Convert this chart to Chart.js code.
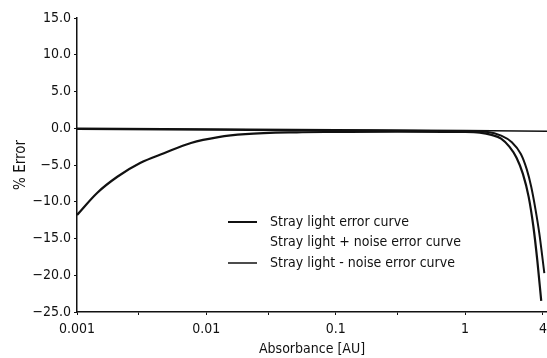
<!DOCTYPE html>
<html lang="en">
<head>
    <meta charset="UTF-8">
    <title>Stray light error</title>
    <style>
        body {
            margin: 0;
            padding: 0;
            background-color: #ffffff;
        }
        #wrap {
            width: 547px;
            height: 358px;
        }
    </style>
</head>
<body>
    <div id="wrap"><canvas id="errorChart" width="547" height="358"></canvas></div>

    <script src="https://cdn.jsdelivr.net/npm/chart.js"></script>
    <script>
        // Data
        var seriesLabels = ['Stray light error curve', 'Stray light + noise error curve', 'Stray light - noise error curve'];

        // stray light error curve (leaves the zero line near 1.5 AU)
        var strayX = [0.001, 0.1, 1, 1.5, 1.9, 2.3, 2.7, 3.0, 3.25, 3.5, 3.75, 4.1];
        var strayY = [-0.1, -0.3, -0.4, -0.5, -1.0, -1.9, -3.5, -5.6, -8.0, -11.0, -14.3, -19.7];

        // stray light + noise
        var plusX = [0.001, 0.00143, 0.00205, 0.0031, 0.0047, 0.0076, 0.0124, 0.02, 0.05, 0.1, 0.3, 1, 1.3, 1.6, 1.9, 2.2, 2.5, 2.8, 3.1, 3.37, 3.62, 3.88];
        var plusY = [-11.8, -8.8, -6.6, -4.7, -3.4, -2.0, -1.2, -0.8, -0.55, -0.5, -0.45, -0.5, -0.6, -0.9, -1.4, -2.5, -4.0, -6.2, -9.3, -13.3, -18.0, -23.5];

        // stray light - noise (stays at the zero line)
        var minusX = [0.001, 0.1, 1, 4.3];
        var minusY = [0.0, -0.2, -0.3, -0.4];

        var xTicks = [0.001, 0.003, 0.01, 0.03, 0.1, 0.3, 1, 4];
        var xTickLabels = ['0.001', '', '0.01', '', '0.1', '', '1', '4'];

        function pairs(xs, ys) {
            return xs.map(function(x, i) { return { x: x, y: ys[i] }; });
        }

        var fontFamily = "'Liberation Sans Narrow', 'DejaVu Sans Condensed', 'Arial Narrow', sans-serif";

        // legend drawn inside the plot, second entry has no line sample
        var innerLegend = {
            id: 'innerLegend',
            afterDraw: function(chart) {
                var ctx = chart.ctx;
                var area = chart.chartArea;
                var x0 = area.left + 151;
                var y0 = area.top + 204;
                ctx.save();
                ctx.font = '14px ' + fontFamily;
                ctx.fillStyle = '#111';
                ctx.textBaseline = 'middle';
                chart.data.datasets.forEach(function(ds, i) {
                    var y = y0 + i * 20.5;
                    if (i !== 1) {
                        ctx.strokeStyle = '#111';
                        ctx.lineWidth = i === 0 ? 2 : 1.5;
                        ctx.beginPath();
                        ctx.moveTo(x0, y);
                        ctx.lineTo(x0 + 29, y);
                        ctx.stroke();
                    }
                    ctx.fillText(ds.label, x0 + 42, y);
                });
                ctx.restore();
            }
        };

        var ctx = document.getElementById('errorChart').getContext('2d');
        new Chart(ctx, {
            type: 'line',
            data: {
                datasets: [{
                    label: seriesLabels[0],
                    data: pairs(strayX, strayY),
                    borderColor: '#111',
                    borderWidth: 2,
                    pointRadius: 0,
                    cubicInterpolationMode: 'monotone'
                }, {
                    label: seriesLabels[1],
                    data: pairs(plusX, plusY),
                    borderColor: '#111',
                    borderWidth: 2.2,
                    pointRadius: 0,
                    cubicInterpolationMode: 'monotone'
                }, {
                    label: seriesLabels[2],
                    data: pairs(minusX, minusY),
                    borderColor: '#111',
                    borderWidth: 1.5,
                    pointRadius: 0,
                    tension: 0
                }]
            },
            options: {
                responsive: false,
                animation: false,
                layout: {
                    padding: { top: 18, right: 0, left: 0, bottom: -4 }
                },
                plugins: {
                    legend: { display: false },
                    tooltip: { enabled: false }
                },
                scales: {
                    x: {
                        type: 'logarithmic',
                        min: 0.001,
                        max: 4.3,
                        afterBuildTicks: function(scale) {
                            scale.ticks = xTicks.map(function(v) { return { value: v }; });
                        },
                        afterFit: function(scale) {
                            scale.height = 50;
                            scale.paddingRight = 0;
                        },
                        ticks: {
                            autoSkip: false,
                            maxRotation: 0,
                            padding: 6,
                            color: '#111',
                            font: { family: fontFamily, size: 14 },
                            callback: function(value, index) {
                                return xTickLabels[index];
                            }
                        },
                        grid: {
                            drawOnChartArea: false,
                            color: '#111',
                            tickLength: 3
                        },
                        border: { color: '#111', width: 1.5 },
                        title: {
                            display: true,
                            text: 'Absorbance [AU]',
                            color: '#111',
                            font: { family: fontFamily, size: 14 },
                            padding: { top: 5 }
                        }
                    },
                    y: {
                        min: -25,
                        max: 15,
                        afterFit: function(scale) {
                            scale.width = 77;
                        },
                        ticks: {
                            stepSize: 5,
                            padding: 3,
                            color: '#111',
                            font: { family: fontFamily, size: 14 },
                            callback: function(value) {
                                var s = Math.abs(value).toFixed(1);
                                return value < 0 ? '\u2212' + s : s;
                            }
                        },
                        grid: {
                            drawOnChartArea: false,
                            color: '#111',
                            tickLength: 3
                        },
                        border: { color: '#111', width: 1.5 },
                        title: {
                            display: true,
                            text: '% Error',
                            color: '#111',
                            font: { family: fontFamily, size: 15 },
                            padding: { top: 12, bottom: 0 }
                        }
                    }
                }
            },
            plugins: [innerLegend]
        });
    </script>
</body>
</html>
